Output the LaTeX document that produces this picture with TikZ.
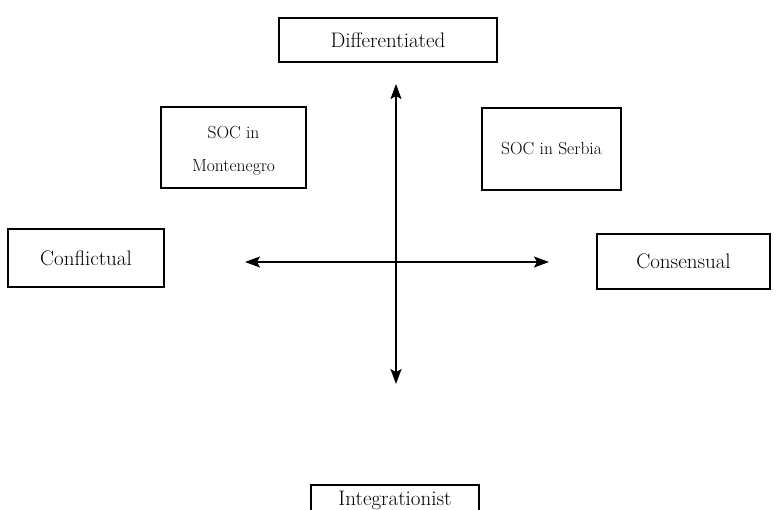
\documentclass[tikz,border=0pt]{standalone}
\usetikzlibrary{arrows.meta}
\begin{document}
\begin{tikzpicture}[x=1pt,y=-1pt,
  bigbox/.style={draw, line width=2.2pt, inner sep=0pt, font=\fontsize{21}{24}\selectfont, align=center},
  smallbox/.style={draw, line width=2.2pt, inner sep=0pt, font=\fontsize{17.5}{33}\selectfont, align=center},
  axis/.style={line width=1.6pt, {Stealth[length=15pt,width=11pt,inset=3pt]}-{Stealth[length=15pt,width=11pt,inset=3pt]}}]
\useasboundingbox (0,0) rectangle (777,510);
\fill[white] (0,0) rectangle (777,510);
\node[bigbox, minimum width=218pt, minimum height=44pt] (diff) at (388,40) {Differentiated};
\node[smallbox, minimum width=145pt, minimum height=81pt] (mne) at (233.5,147.5) {};
\node[font=\fontsize{17.5}{33}\selectfont, align=center] (mnet) at (233.5,151) {SOC in\\Montenegro};
\node[smallbox, minimum width=139pt, minimum height=82pt] (srb) at (551.5,149) {SOC in Serbia};
\node[bigbox, minimum width=156pt, minimum height=58pt] (confl) at (86,258) {Conflictual};
\node[bigbox, minimum width=173pt, minimum height=55pt] (cons) at (683.5,261.5) {Consensual};
\node[bigbox, minimum width=168pt, minimum height=50pt] (integ) at (395,510) {};
\node[font=\fontsize{21}{24}\selectfont, anchor=base] (integt) at (395,506) {Integrationist};
\coordinate (vt) at (396,84);
\coordinate (vb) at (396,384);
\coordinate (hl) at (245,262);
\coordinate (hr) at (549,262);
\draw[axis] (vt) -- (vb);
\draw[axis] (hl) -- (hr);
\end{tikzpicture}
\end{document}
